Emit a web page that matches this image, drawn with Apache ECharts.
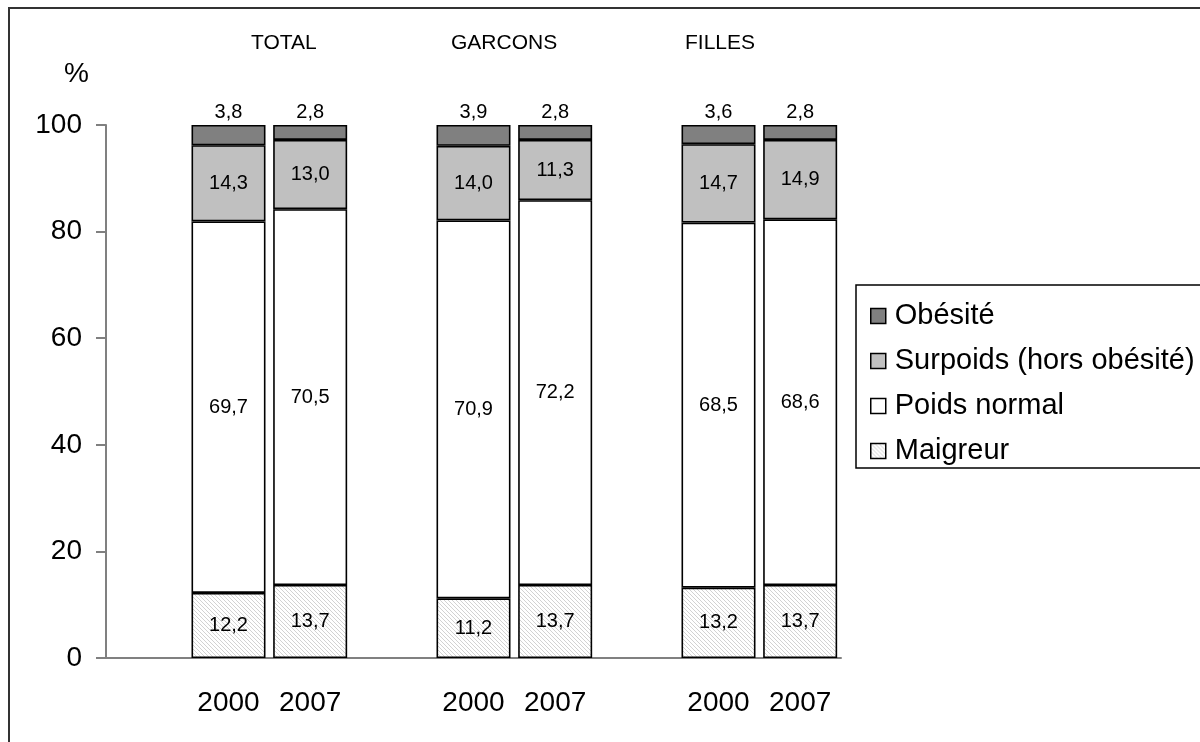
<!DOCTYPE html>
<html>
<head>
<meta charset="utf-8">
<script src="https://cdn.jsdelivr.net/npm/echarts@6/dist/echarts.min.js"></script>
<style>
  html, body { margin: 0; padding: 0; background: #fff; }
  #chart { width: 1200px; height: 742px; }
</style>
</head>
<body>
<div id="chart"></div>
<script>
// categories (blank slots make the gaps between groups)
const years = ['', '2000', '2007', '', '2000', '2007', '', '2000', '2007'];
const groups = ['TOTAL', 'GARCONS', 'FILLES'];

const maigreur = [null, 12.2, 13.7, null, 11.2, 13.7, null, 13.2, 13.7];
const poidsNormal = [null, 69.7, 70.5, null, 70.9, 72.2, null, 68.5, 68.6];
const surpoids = [null, 14.3, 13.0, null, 14.0, 11.3, null, 14.7, 14.9];
const obesite = [null, 3.8, 2.8, null, 3.9, 2.8, null, 3.6, 2.8];

const yTicks = [0, 20, 40, 60, 80, 100];

const FONT = '"Liberation Sans", Arial, sans-serif';

// hatch for "Maigreur"
function hatch() {
  const c = document.createElement('canvas');
  c.width = 4; c.height = 4;
  const ctx = c.getContext('2d');
  ctx.fillStyle = '#ffffff';
  ctx.fillRect(0, 0, 4, 4);
  ctx.fillStyle = '#d2d2d2';
  for (let x = 0; x < 4; x++) {
    ctx.fillRect(x, x, 1, 1);
  }
  return c;
}
const hatchColor = { image: hatch(), repeat: 'repeat' };

const fmt = p => p.value == null ? '' : p.value.toFixed(1).replace('.', ',');

function bar(name, data, color, pos) {
  return {
    name: name,
    type: 'bar',
    stack: 'all',
    data: data,
    barWidth: 74,
    itemStyle: { color: color, borderColor: '#000', borderWidth: 1.6 },
    label: {
      show: true,
      position: pos,
      distance: 3,
      formatter: fmt,
      fontFamily: FONT,
      fontSize: 20,
      color: '#000'
    }
  };
}

const chart = echarts.init(document.getElementById('chart'));
chart.setOption({
  animation: false,
  backgroundColor: '#fff',
  textStyle: { fontFamily: FONT },
  grid: { left: 106, right: 359, top: 125, bottom: 84 },
  xAxis: {
    type: 'category',
    data: years,
    axisLine: { lineStyle: { color: '#808080', width: 2 } },
    axisTick: { show: false },
    axisLabel: { color: '#000', fontSize: 28, fontFamily: FONT, margin: 31, interval: 0 }
  },
  yAxis: {
    type: 'value',
    min: yTicks[0],
    max: yTicks[yTicks.length - 1],
    interval: 20,
    splitLine: { show: false },
    axisLine: { show: true, lineStyle: { color: '#808080', width: 2 } },
    axisTick: { show: true, length: 10, lineStyle: { color: '#808080', width: 2 } },
    axisLabel: { color: '#000', fontSize: 28, fontFamily: FONT, margin: 24 }
  },
  legend: {
    orient: 'vertical',
    left: 865,
    top: 296,
    itemWidth: 15,
    itemHeight: 15,
    itemGap: 15,
    icon: 'rect',
    itemStyle: { borderColor: '#000', borderWidth: 1.5 },
    textStyle: { fontSize: 29, fontFamily: FONT, color: '#000', lineHeight: 30, padding: [0, 0, 0, 4] },
    data: ['Obésité', 'Surpoids (hors obésité)', 'Poids normal', 'Maigreur']
  },
  graphic: [
    { type: 'rect', shape: { x: 9, y: 8, width: 1400, height: 900 },
      style: { fill: 'none', stroke: '#333', lineWidth: 2 }, silent: true },
    { type: 'rect', shape: { x: 856, y: 285, width: 500, height: 183 },
      style: { fill: 'none', stroke: '#000', lineWidth: 1.5 }, silent: true },
    { type: 'text', left: 64, top: 60, style: { text: '%', fontSize: 28, fontFamily: FONT, fill: '#000' } },
    { type: 'text', left: 251, top: 33, style: { text: groups[0], fontSize: 21, fontFamily: FONT, fill: '#000' } },
    { type: 'text', left: 451, top: 33, style: { text: groups[1], fontSize: 21, fontFamily: FONT, fill: '#000' } },
    { type: 'text', left: 685, top: 33, style: { text: groups[2], fontSize: 21, fontFamily: FONT, fill: '#000' } }
  ],
  series: [
    bar('Maigreur', maigreur, hatchColor, 'inside'),
    bar('Poids normal', poidsNormal, '#ffffff', 'inside'),
    bar('Surpoids (hors obésité)', surpoids, '#c0c0c0', 'inside'),
    bar('Obésité', obesite, '#808080', 'top')
  ]
});
</script>
</body>
</html>
